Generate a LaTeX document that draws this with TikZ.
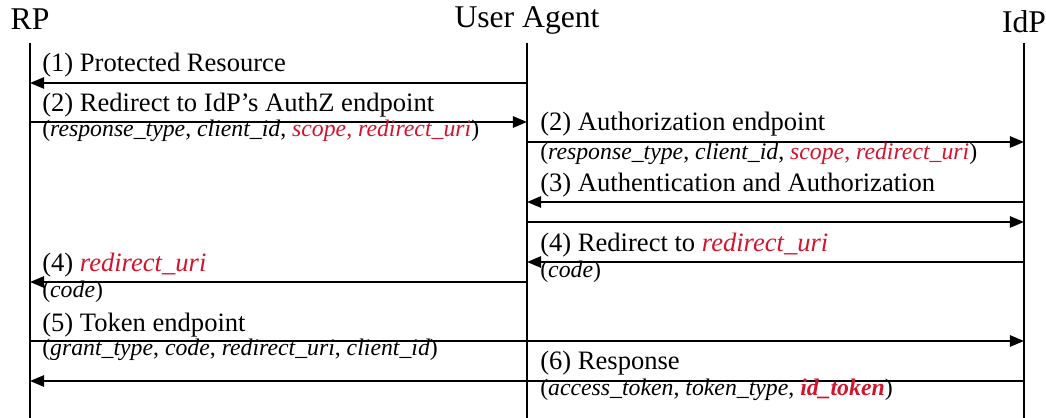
\documentclass[tikz,border=0pt]{standalone}
\usepackage{fontspec}
\setmainfont{Liberation Serif}
\usepackage{tikz}
\usetikzlibrary{arrows.meta,positioning}
\usepackage{color}
\definecolor{uriRed}{RGB}{210,20,45}
\tikzset{
  lifeline/.style={black, line width=1.4pt},
  msg/.style={black, line width=1.4pt, -{Triangle[length=10pt,width=8pt]}},
  actor/.style={anchor=base, inner sep=0pt, font=\fontsize{22.5}{26}\selectfont},
  lbl/.style={anchor=base west, inner sep=0pt, font=\fontsize{18.9}{22}\selectfont},
  arg/.style={anchor=base west, inner sep=0pt, font=\fontsize{16.9}{20}\selectfont},
}
\newcommand{\rd}[1]{\textcolor{uriRed}{#1}}

\begin{document}
\begin{tikzpicture}[x=0.025cm,y=-0.025cm]
\useasboundingbox (0,0) rectangle (1046,418);
\node[actor] (rp) at (30,30) {RP};
\node[actor] (ua) at (527,28) {User Agent};
\node[actor] (idp) at (1024,33) {IdP};
\coordinate (rpTop) at (30,43);
\coordinate (uaTop) at (527,43);
\coordinate (idpTop) at (1024,43);
\coordinate (bot) at (0,418);
\draw[lifeline](rpTop)--(rp |- bot);
\draw[lifeline](uaTop)--(ua |- bot);
\draw[lifeline](idpTop)--(idp |- bot);
\coordinate (m1) at (0,83);
\coordinate (m2) at (0,122);
\coordinate (m3) at (0,142);
\coordinate (m4) at (0,202);
\coordinate (m5) at (0,222);
\coordinate (m6) at (0,262);
\coordinate (m7) at (0,282);
\coordinate (m8) at (0,341);
\coordinate (m9) at (0,381);
\draw[msg](ua |- m1)--(rp |- m1);
\draw[msg](rp |- m2)--(ua |- m2);
\draw[msg](ua |- m3)--(idp |- m3);
\draw[msg](idp |- m4)--(ua |- m4);
\draw[msg](ua |- m5)--(idp |- m5);
\draw[msg](idp |- m6)--(ua |- m6);
\draw[msg](ua |- m7)--(rp |- m7);
\draw[msg](rp |- m8)--(idp |- m8);
\draw[msg](idp |- m9)--(rp |- m9);
% labels
\node[lbl] (l1) at (42,72) {(1) Protected Resource};
\node[lbl] (l2) at (42,112) {(2) Redirect to IdP’s AuthZ endpoint};
\node[arg] (a2) at (42,137) {(\textit{response\_type}, \textit{client\_id}, \rd{\textit{scope}, \textit{redirect\_uri}})};
\node[lbl] (l3) at (540,131) {(2) Authorization endpoint};
\node[arg] (a3) at (540,160) {(\textit{response\_type}, \textit{client\_id}, \rd{\textit{scope}, \textit{redirect\_uri}})};
\node[lbl] (l4) at (540,192) {(3) Authentication and Authorization};
\node[lbl] (l6) at (540,252) {(4) Redirect to \rd{\textit{redirect\_uri}}};
\node[arg] (a6) at (540,278) {(\textit{code})};
\node[lbl] (l7) at (42,272) {(4) \rd{\textit{redirect\_uri}}};
\node[arg] (a7) at (42,298) {(\textit{code})};
\node[lbl] (l8) at (42,332) {(5) Token endpoint};
\node[arg] (a8) at (42,356) {(\textit{grant\_type}, \textit{code}, \textit{redirect\_uri}, \textit{client\_id})};
\node[lbl] (l9) at (540,370) {(6) Response};
\node[arg] (a9) at (540,396) {(\textit{access\_token}, \textit{token\_type}, \rd{\textbf{\textit{id\_token}}})};
\end{tikzpicture}
\end{document}
